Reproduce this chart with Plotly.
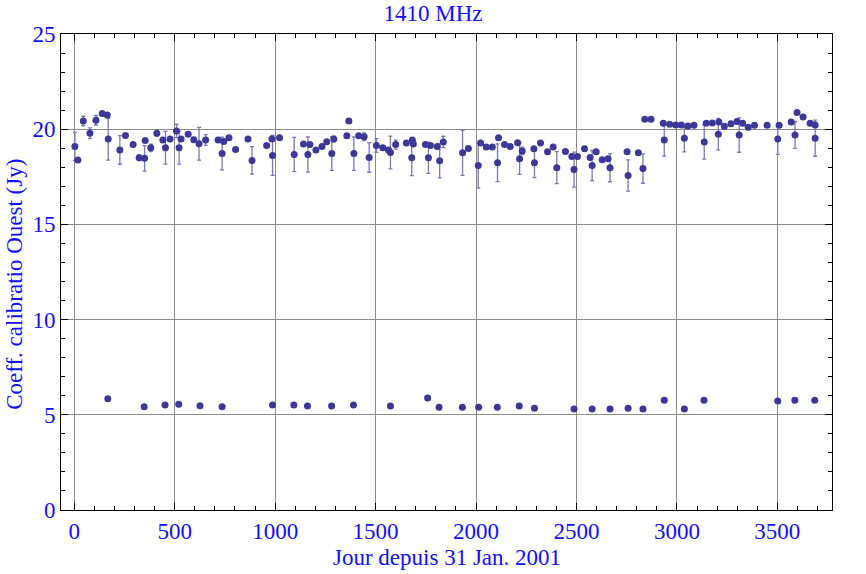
import plotly.graph_objects as go

# Upper series (day, value, error)
days_hi = [3, 18, 45, 78, 108, 139, 164, 169, 227, 255, 293, 323, 350, 353, 381, 411, 441, 454, 477,
           509, 522, 532, 567, 595, 621, 654, 716, 736, 744, 770, 803, 865, 885, 958, 984, 987, 1022,
           1095, 1141, 1163, 1173, 1203, 1233, 1257, 1282, 1292, 1357, 1367, 1392, 1416, 1443, 1468,
           1504, 1536, 1564, 1574, 1600, 1653, 1680, 1683, 1688, 1748, 1763, 1773, 1807, 1819, 1837,
           1933, 1962, 2011, 2023, 2051, 2081, 2107, 2112, 2142, 2170, 2207, 2217, 2230, 2288, 2291,
           2321, 2356, 2384, 2402, 2445, 2477, 2488, 2505, 2540, 2568, 2578, 2598, 2628, 2657, 2667,
           2752, 2757, 2808, 2831, 2840, 2871, 2932, 2937, 2964, 2994, 3022, 3037, 3055, 3085, 3136,
           3146, 3176, 3206, 3209, 3236, 3269, 3299, 3310, 3327, 3355, 3386, 3449, 3502, 3509, 3569,
           3588, 3598, 3628, 3663, 3688, 3688]
vals_hi = [19.09, 18.38, 20.43, 19.79, 20.47, 20.83, 20.74, 19.48, 18.91, 19.67, 19.19, 18.50, 18.47,
           19.40, 19.02, 19.79, 19.43, 19.03, 19.48, 19.91, 19.03, 19.48, 19.74, 19.45, 19.24, 19.43,
           19.43, 18.72, 19.36, 19.55, 18.93, 19.48, 18.36, 19.14, 19.48, 18.62, 19.55, 18.67, 19.22,
           18.67, 19.19, 18.91, 19.09, 19.34, 18.72, 19.48, 19.66, 20.43, 18.72, 19.66, 19.60, 18.52,
           19.14, 19.02, 18.91, 18.78, 19.19, 19.28, 18.50, 19.43, 19.22, 19.19, 18.50, 19.14, 19.09,
           18.34, 19.33, 18.76, 18.98, 18.09, 19.28, 19.07, 19.07, 18.24, 19.55, 19.19, 19.09, 19.29,
           18.45, 18.86, 18.97, 18.24, 19.28, 18.81, 19.07, 17.98, 18.83, 18.57, 17.88, 18.57, 18.97,
           18.52, 18.09, 18.81, 18.40, 18.45, 17.98, 18.81, 17.57, 18.76, 17.93, 20.52, 20.52, 20.31,
           19.43, 20.26, 20.22, 20.22, 19.53, 20.17, 20.21, 19.33, 20.31, 20.33, 19.74, 20.38, 20.16,
           20.28, 20.41, 19.69, 20.31, 20.10, 20.21, 20.21, 19.48, 20.21, 20.38, 19.69, 20.88, 20.64,
           20.31, 20.22, 19.53]
errs_hi = [0.74, 0, 0.25, 0.28, 0.25, 0, 0.12, 1.10, 0.75, 0.10, 0, 0.15, 0.67, 0, 0.20, 0.15, 0,
           0.86, 0, 0.35, 0.86, 0, 0, 0, 0.86, 0.28, 0, 0.86, 0, 0, 0, 0, 0.72, 0, 0, 1.05, 0, 0.90,
           0, 0.92, 0, 0, 0, 0, 0.88, 0.15, 0.10, 0.10, 0.88, 0, 0.20, 0.78, 0.36, 0, 0, 0.86, 0.24,
           0, 0.94, 0, 0, 0, 0.82, 0, 0, 0.90, 0.30, 1.18, 0, 1.18, 0, 0, 0, 0.99, 0, 0, 0, 0, 0.82,
           0.20, 0, 0.78, 0, 0, 0, 0.84, 0, 0, 0.92, 0, 0.10, 0, 0.79, 0, 0, 0, 0.74, 0, 0.82, 0,
           0.77, 0, 0, 0, 0.84, 0, 0, 0, 0.72, 0, 0, 0.90, 0, 0, 0.83, 0, 0, 0, 0, 0.90, 0, 0, 0, 0,
           0.80, 0, 0, 0.70, 0.05, 0, 0, 0.14, 0.95]

# Lower series
days_lo = [167, 348, 452, 520, 626, 736, 987, 1093, 1161, 1281, 1390, 1574, 1759, 1816, 1932, 2013,
           2106, 2215, 2291, 2488, 2578, 2667, 2757, 2831, 2937, 3037, 3135, 3502, 3587, 3686]
vals_lo = [5.84, 5.42, 5.51, 5.56, 5.47, 5.42, 5.51, 5.51, 5.46, 5.46, 5.51, 5.46, 5.88, 5.40, 5.40,
           5.40, 5.40, 5.46, 5.35, 5.30, 5.30, 5.30, 5.35, 5.30, 5.77, 5.30, 5.77, 5.72, 5.77, 5.77]
errs_lo = [0.05, 0, 0, 0, 0, 0, 0, 0, 0, 0, 0, 0, 0.12, 0, 0, 0, 0, 0, 0, 0, 0, 0, 0, 0, 0, 0.10,
           0, 0, 0, 0]

title_text = "1410 MHz"
x_title = "Jour depuis 31 Jan. 2001"
y_title = "Coeff. calibratio Ouest (Jy)"

FONT = "Liberation Serif, Times New Roman, serif"
BLUE = "#1010ff"
MARK = "#3b3898"
ERRC = "#7a78bc"

fig = go.Figure()
for d, v, e in [(days_hi, vals_hi, errs_hi), (days_lo, vals_lo, errs_lo)]:
    fig.add_trace(go.Scatter(
        x=d, y=v, mode="markers",
        marker=dict(size=7, color=MARK, line=dict(width=0)),
        error_y=dict(type="data", array=e, visible=True, color=ERRC, thickness=1.3, width=2),
        showlegend=False, hoverinfo="x+y"))

axis_common = dict(
    automargin=False,
    showline=True, linecolor="black", linewidth=1, mirror="allticks",
    ticks="inside", ticklen=7, tickcolor="black", tickwidth=1,
    showgrid=True, gridcolor="#8a8a8a", gridwidth=1, zeroline=False,
    tickfont=dict(family=FONT, size=23, color=BLUE),
)

fig.update_xaxes(range=[-66, 3772], tickvals=[0, 500, 1000, 1500, 2000, 2500, 3000, 3500],
                 minor=dict(dtick=100, tick0=0, ticks="inside", ticklen=4, tickcolor="black", showgrid=False),
                 **axis_common)
fig.update_yaxes(range=[0, 25], tickvals=[0, 5, 10, 15, 20, 25],
                 minor=dict(dtick=1, tick0=0, ticks="inside", ticklen=4, tickcolor="black", showgrid=False),
                 **axis_common)

fig.update_layout(
    width=866, height=574,
    margin=dict(l=61, r=34, t=34, b=64, autoexpand=False),
    paper_bgcolor="white", plot_bgcolor="white",
    title=dict(text=title_text, x=0.5, xanchor="center", y=1 - 13 / 574, yanchor="middle",
               font=dict(family=FONT, size=23, color=BLUE)),
    annotations=[
        dict(text=x_title, xref="paper", yref="paper", x=0.5, y=-0.099, xanchor="center",
             yanchor="middle", showarrow=False, font=dict(family=FONT, size=23, color=BLUE)),
        dict(text=y_title, xref="paper", yref="paper", x=-0.0597, y=0.475, xanchor="center",
             yanchor="middle", textangle=-90, showarrow=False,
             font=dict(family=FONT, size=23, color=BLUE)),
    ],
)

fig.write_html("out.html", config={"displayModeBar": False},
               post_script="document.body.style.margin='0';document.body.style.overflow='hidden';")
